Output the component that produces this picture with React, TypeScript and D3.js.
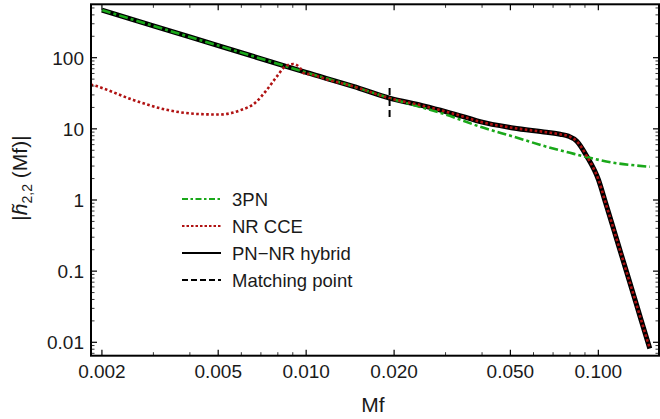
import React from "react";
import * as d3 from "d3";

// ---------- data ----------
const pnFreq = [0.002, 0.003, 0.005, 0.0075, 0.01, 0.0145, 0.0193, 0.025, 0.03, 0.0394, 0.0511, 0.0666, 0.08, 0.0915, 0.112, 0.13, 0.15];
const pnAmp = [467, 280, 148, 89, 62, 39.5, 27, 19.9, 15.9, 10.7, 7.8, 5.6, 4.6, 4.0, 3.35, 3.1, 2.93];

const hybFreq = [0.002, 0.003, 0.005, 0.0075, 0.01, 0.0145, 0.0193, 0.025, 0.03, 0.035, 0.0394, 0.0511, 0.0665, 0.074, 0.079, 0.0844, 0.0913, 0.1, 0.106, 0.113, 0.12, 0.13, 0.14, 0.15];
const hybAmp = [467, 280, 148, 89, 62, 39.5, 27, 21.2, 17.5, 14.6, 12.6, 10.3, 8.96, 8.4, 7.9, 6.7, 4.13, 1.95, 0.9, 0.38, 0.168, 0.057, 0.0208, 0.0082];

const nrFreq = [0.00183, 0.00189, 0.00256, 0.00333, 0.00434, 0.00507, 0.00594, 0.00668, 0.00733, 0.00793, 0.00847, 0.00904, 0.00953, 0.00975, 0.0105, 0.012, 0.0145, 0.0193, 0.025, 0.03, 0.035, 0.0394, 0.0511, 0.0665, 0.074, 0.079, 0.0844, 0.0913, 0.1, 0.106, 0.113, 0.12, 0.13, 0.14, 0.15];
const nrAmp = [42, 40.5, 25.5, 18.5, 16.1, 15.9, 18.2, 23.1, 35.2, 54.2, 74.9, 81.6, 71.8, 61.5, 57.5, 48.5, 39.5, 27, 21.2, 17.5, 14.6, 12.6, 10.3, 8.96, 8.4, 7.9, 6.7, 4.13, 1.95, 0.9, 0.38, 0.168, 0.057, 0.0208, 0.0082];

const matchFreq = 0.0193;
const matchAmpRange = [14.7, 41.4];

const xTickValues = [0.002, 0.005, 0.01, 0.02, 0.05, 0.1];
const xTickLabels = ["0.002", "0.005", "0.010", "0.020", "0.050", "0.100"];
const yTickValues = [0.01, 0.1, 1, 10, 100];
const yTickLabels = ["0.01", "0.1", "1", "10", "100"];

const legendLabels = ["3PN", "NR CCE", "PN\u2212NR hybrid", "Matching point"];

// ---------- styles ----------
const GREEN = "#1aa81a";
const RED = "#b01212";
const FONT = "'Liberation Sans', Arial, Helvetica, sans-serif";

export default function App() {
  const W = 660, H = 419;
  const left = 91, right = 659, top = 4.3, bottom = 355.7;

  const x = d3.scaleLog().domain([0.001835, 0.1613]).range([left, right]);
  const y = d3.scaleLog().domain([0.00648, 563]).range([bottom, top]);

  const line = d3
    .line<[number, number]>()
    .x((d) => x(d[0]))
    .y((d) => y(d[1]))
    .curve(d3.curveMonotoneX);

  const zip = (a: number[], b: number[]) => a.map((v, i) => [v, b[i]] as [number, number]);

  // minor ticks
  const xMinor: number[] = [];
  for (const dec of [0.001, 0.01, 0.1]) {
    for (let k = 1; k <= 9; k++) {
      const v = dec * k;
      if (v >= 0.001835 && v <= 0.1613 && !xTickValues.some((t) => Math.abs(t - v) < 1e-9)) xMinor.push(v);
    }
  }
  const yMinor: number[] = [];
  for (const dec of [0.001, 0.01, 0.1, 1, 10, 100]) {
    for (let k = 2; k <= 9; k++) {
      const v = dec * k;
      if (v >= 0.00648 && v <= 563) yMinor.push(v);
    }
  }

  const majorLen = 6, minorLen = 3.5;
  const legendY = [199, 226, 253, 280];
  const legendStyles = [
    { stroke: GREEN, dash: "6,2.5,2.5,2.5", w: 2 },
    { stroke: RED, dash: "2.5,2", w: 2.2 },
    { stroke: "#000", dash: undefined, w: 2 },
    { stroke: "#000", dash: "6,3", w: 2 },
  ];

  return (
    <svg width={W} height={H} style={{ position: "absolute", left: 0, top: 0, background: "#fff" }} fontFamily={FONT}>
      <defs>
        <clipPath id="plotclip">
          <rect x={left} y={top} width={right - left} height={bottom - top} />
        </clipPath>
      </defs>

      <g clipPath="url(#plotclip)" fill="none">
        <path d={line(zip(hybFreq, hybAmp)) || ""} stroke="#000" strokeWidth={5} />
        <path d={line(zip(pnFreq, pnAmp)) || ""} stroke={GREEN} strokeWidth={2.6} strokeDasharray="9,3,3,3" />
        <path d={line(zip(nrFreq, nrAmp)) || ""} stroke={RED} strokeWidth={2.6} strokeDasharray="2.6,2.4" />
        <line
          x1={x(matchFreq)}
          x2={x(matchFreq)}
          y1={y(matchAmpRange[0])}
          y2={y(matchAmpRange[1])}
          stroke="#000"
          strokeWidth={2}
          strokeDasharray="7,4"
        />
      </g>

      {/* ticks */}
      <g stroke="#000">
        {xTickValues.map((v) => (
          <g key={"xm" + v}>
            <line x1={x(v)} x2={x(v)} y1={bottom} y2={bottom - majorLen} strokeWidth={1.2} />
            <line x1={x(v)} x2={x(v)} y1={top} y2={top + majorLen} strokeWidth={1.2} />
          </g>
        ))}
        {xMinor.map((v) => (
          <g key={"xn" + v}>
            <line x1={x(v)} x2={x(v)} y1={bottom} y2={bottom - minorLen} strokeWidth={0.8} />
            <line x1={x(v)} x2={x(v)} y1={top} y2={top + minorLen} strokeWidth={0.8} />
          </g>
        ))}
        {yTickValues.map((v) => (
          <g key={"ym" + v}>
            <line x1={left} x2={left + majorLen} y1={y(v)} y2={y(v)} strokeWidth={1.2} />
            <line x1={right} x2={right - majorLen} y1={y(v)} y2={y(v)} strokeWidth={1.2} />
          </g>
        ))}
        {yMinor.map((v) => (
          <g key={"yn" + v}>
            <line x1={left} x2={left + minorLen} y1={y(v)} y2={y(v)} strokeWidth={0.8} />
            <line x1={right} x2={right - minorLen} y1={y(v)} y2={y(v)} strokeWidth={0.8} />
          </g>
        ))}
      </g>

      {/* frame */}
      <rect x={left} y={top} width={right - left} height={bottom - top} fill="none" stroke="#000" strokeWidth={2} />

      {/* tick labels */}
      <g fontSize={19} fill="#1a1a1a">
        {xTickValues.map((v, i) => (
          <text key={"xl" + v} x={x(v)} y={377.5} textAnchor="middle">
            {xTickLabels[i]}
          </text>
        ))}
        {yTickValues.map((v, i) => (
          <text key={"yl" + v} x={84} y={y(v)} dy="0.36em" textAnchor="end">
            {yTickLabels[i]}
          </text>
        ))}
      </g>

      {/* axis labels */}
      <text x={373} y={412} fontSize={21} textAnchor="middle" fill="#1a1a1a">
        Mf
      </text>
      <text transform="translate(27,178) rotate(-90)" fontSize={21} textAnchor="middle" fill="#1a1a1a">
        |<tspan fontStyle="italic">h{"\u0303"}</tspan>
        <tspan fontSize={14} dy={5}>2,2</tspan>
        <tspan dy={-5}> (Mf)|</tspan>
      </text>

      {/* legend */}
      <g>
        {legendLabels.map((lab, i) => (
          <g key={lab}>
            <line
              x1={182}
              x2={221}
              y1={legendY[i]}
              y2={legendY[i]}
              stroke={legendStyles[i].stroke}
              strokeWidth={legendStyles[i].w}
              strokeDasharray={legendStyles[i].dash}
            />
            <text x={232} y={legendY[i]} dy="0.36em" fontSize={18.5} fill="#1a1a1a">
              {lab}
            </text>
          </g>
        ))}
      </g>
    </svg>
  );
}
